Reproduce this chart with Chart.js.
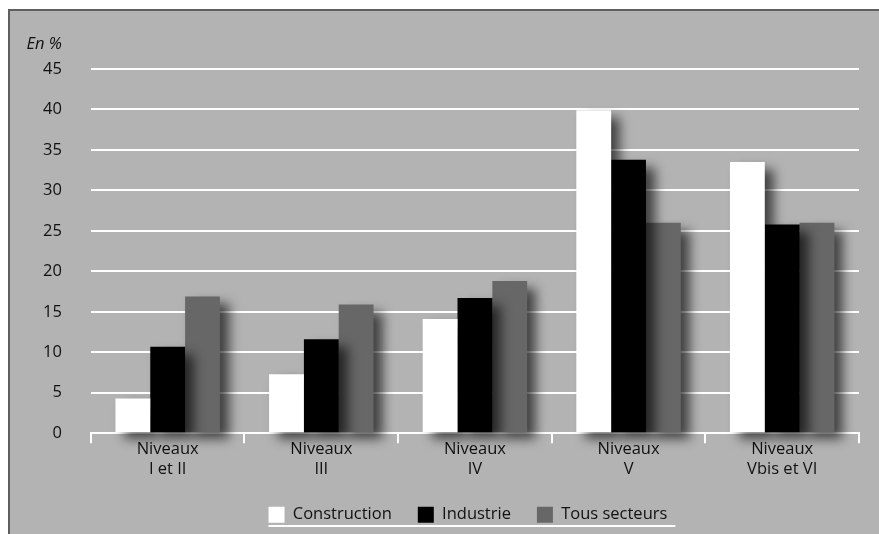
<!DOCTYPE html>
<html>
<head>
<meta charset="utf-8">
<script src="https://cdn.jsdelivr.net/npm/chart.js@4/dist/chart.umd.min.js"></script>
<style>
  html, body { margin: 0; padding: 0; background: #ffffff; }
  #frame {
    position: absolute; left: 8px; top: 9px; width: 869px; height: 523px;
    border-left: 2px solid #5f5f5f; border-top: 2px solid #5f5f5f;
    background: #b3b3b3;
  }
  #chart { display: block; }
</style>
</head>
<body>
<div id="frame"><canvas id="chart" width="869" height="523"></canvas></div>
<script>
// Niveaux de formation
const categories = [
  ['Niveaux', 'I et II'],
  ['Niveaux', 'III'],
  ['Niveaux', 'IV'],
  ['Niveaux', 'V'],
  ['Niveaux', 'Vbis et VI']
];
const seriesNames = ['Construction', 'Industrie', 'Tous secteurs'];
const construction = [4.3, 7.3, 14.1, 39.9, 33.5];
const industrie = [10.7, 11.6, 16.7, 33.8, 25.8];
const tousSecteurs = [16.9, 15.9, 18.8, 26.0, 26.0];
const yTicks = [0, 5, 10, 15, 20, 25, 30, 35, 40, 45];
const unitLabel = 'En %';

const FONT = '"Open Sans", "Noto Sans", sans-serif';
const FSIZE = 16.5;
const TEXT = '#111111';
const Y_PAD = 29;

// soft drop shadow behind each bar
const barShadow = {
  id: 'barShadow',
  beforeDatasetDraw(chart) {
    const ctx = chart.ctx;
    ctx.save();
    ctx.shadowColor = 'rgba(0,0,0,0.65)';
    ctx.shadowBlur = 11;
    ctx.shadowOffsetX = 9;
    ctx.shadowOffsetY = 7;
  },
  afterDatasetDraw(chart) {
    chart.ctx.restore();
  }
};

// centre the legend under the plot area rather than the whole canvas
const legendUnderPlot = {
  id: 'legendUnderPlot',
  afterLayout(chart) {
    const lg = chart.legend;
    if (!lg) return;
    const shift = (chart.chartArea.left + chart.chartArea.right) / 2 - (lg.left + lg.right) / 2 - 7;
    lg.left += shift;
    lg.right += shift;
  }
};

// unit caption above the value axis, and white rule under the legend
const decorations = {
  id: 'decorations',
  afterDraw(chart) {
    const ctx = chart.ctx;
    const y = chart.scales.y;
    ctx.save();
    ctx.fillStyle = TEXT;
    ctx.font = 'italic ' + FSIZE + 'px ' + FONT;
    ctx.textAlign = 'right';
    ctx.textBaseline = 'middle';
    ctx.fillText(unitLabel, y.right - Y_PAD, y.top - 25);

    const lg = chart.legend;
    if (lg && lg.legendHitBoxes.length) {
      const boxes = lg.legendHitBoxes;
      const x0 = boxes[0].left;
      const last = boxes[boxes.length - 1];
      const x1 = last.left + last.width + 8;
      const ly = last.top + last.height + 3;
      ctx.strokeStyle = '#ffffff';
      ctx.lineWidth = 2;
      ctx.beginPath();
      ctx.moveTo(x0, ly);
      ctx.lineTo(x1, ly);
      ctx.stroke();
    }
    ctx.restore();
  }
};

const colors = ['#ffffff', '#000000', '#676767'];
const values = [construction, industrie, tousSecteurs];

new Chart(document.getElementById('chart'), {
  type: 'bar',
  data: {
    labels: categories,
    datasets: seriesNames.map((name, i) => ({
      label: name,
      data: values[i],
      backgroundColor: colors[i],
      borderWidth: 0,
      clip: false
    }))
  },
  options: {
    responsive: false,
    animation: false,
    devicePixelRatio: 1,
    categoryPercentage: 0.68,
    barPercentage: 1.0,
    layout: { padding: { left: 4, right: 20, top: 58, bottom: 1 } },
    plugins: {
      tooltip: { enabled: false },
      title: { display: false },
      legend: {
        position: 'bottom',
        labels: {
          color: TEXT,
          font: { family: FONT, size: FSIZE },
          boxWidth: 16,
          boxHeight: 16,
          padding: 26,
          generateLabels(chart) {
            return chart.data.datasets.map((ds, i) => ({
              text: ds.label,
              fillStyle: ds.backgroundColor,
              strokeStyle: ds.backgroundColor,
              lineWidth: 0,
              fontColor: TEXT,
              datasetIndex: i
            }));
          }
        }
      }
    },
    scales: {
      x: {
        z: 1,
        offset: true,
        afterFit(scale) {
          scale.height += 5;
        },
        grid: {
          display: true,
          offset: true,
          drawOnChartArea: false,
          drawTicks: true,
          tickLength: 10,
          color: '#ffffff',
          lineWidth: 2
        },
        border: { display: true, color: '#ffffff', width: 2 },
        ticks: {
          color: TEXT,
          font: { family: FONT, size: FSIZE, lineHeight: 1.22 },
          padding: -4,
          maxRotation: 0
        }
      },
      y: {
        min: 0,
        max: 45,
        afterBuildTicks(scale) {
          scale.ticks = yTicks.map(v => ({ value: v }));
        },
        grid: {
          color: '#ffffff',
          lineWidth: 2,
          drawTicks: false
        },
        border: { display: false },
        ticks: {
          color: TEXT,
          font: { family: FONT, size: FSIZE },
          padding: Y_PAD
        }
      }
    }
  },
  plugins: [barShadow, legendUnderPlot, decorations]
});
</script>
</body>
</html>
